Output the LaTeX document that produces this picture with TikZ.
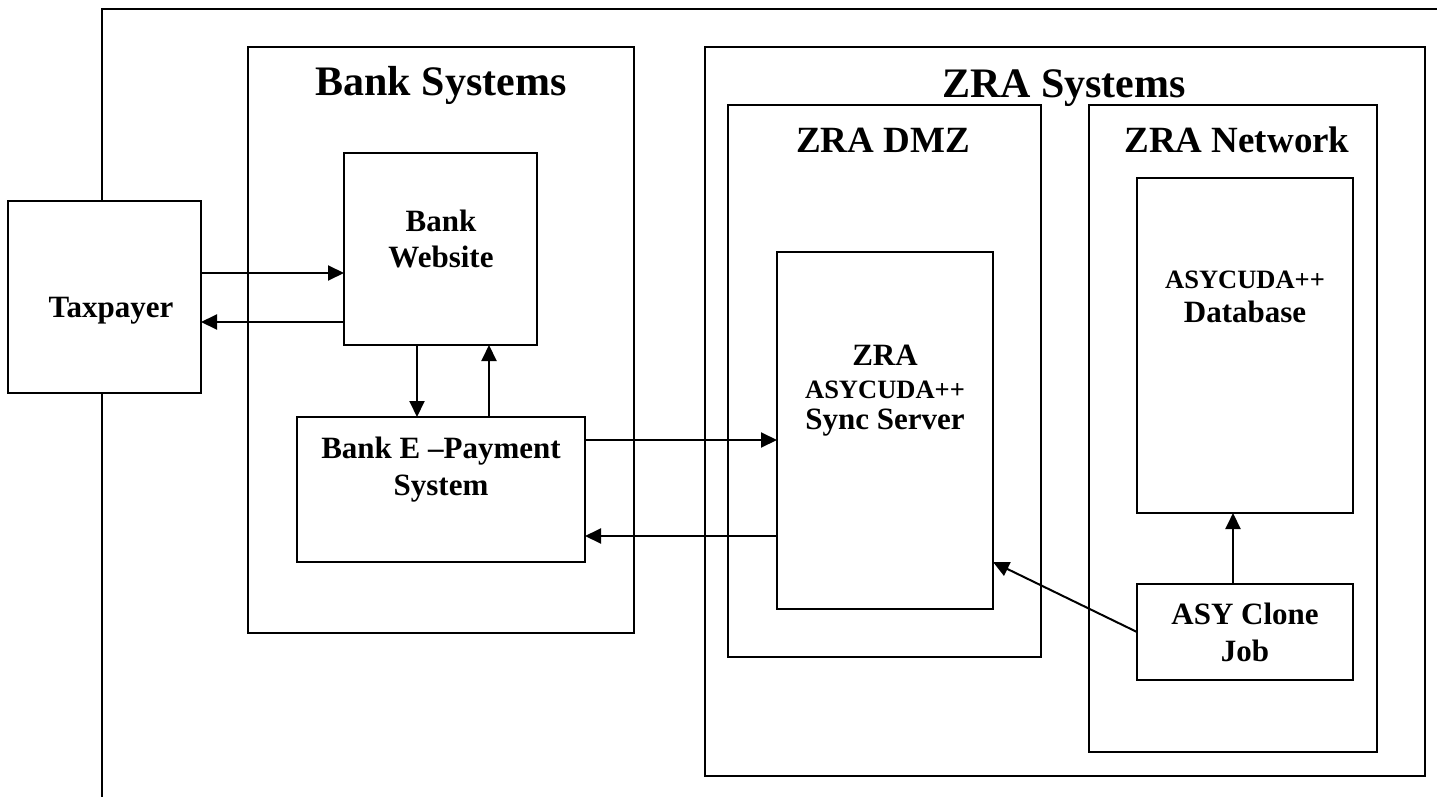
\documentclass[tikz,border=0pt]{standalone}
\usepackage{fontspec}
\setmainfont{Liberation Serif}
\usetikzlibrary{arrows.meta}
\tikzset{
  box/.style={draw, line width=2.2pt, fill=white, inner sep=0pt, outer sep=0pt, anchor=north west, rectangle},
  arr/.style={line width=2pt, -{Triangle[length=16pt,width=15pt]}},
  ttl/.style={font=\fontsize{42}{46}\selectfont\bfseries, anchor=base, inner sep=0pt},
  sub/.style={font=\fontsize{37}{41}\selectfont\bfseries, anchor=base, inner sep=0pt},
  lbl/.style={font=\fontsize{31}{35}\selectfont\bfseries, anchor=base, inner sep=0pt},
  sml/.style={font=\fontsize{26.5}{30}\selectfont\bfseries, anchor=base, inner sep=0pt}
}
\begin{document}
\begin{tikzpicture}[x=1pt,y=-1pt]
\useasboundingbox[fill=white] (0,0) rectangle (1437,797);
% outer frame
\coordinate (ftr) at (1437,9);
\coordinate (ftl) at (102,9);
\coordinate (fbl) at (102,797);
\draw[line width=2.2pt] (ftr) -- (ftl) -- (fbl);
% containers
\node[box, minimum width=386, minimum height=586] (bank) at (248,47) {};
\node[box, minimum width=720, minimum height=729] (zra) at (705,47) {};
\node[box, minimum width=313, minimum height=552] (dmz) at (728,105) {};
\node[box, minimum width=288, minimum height=647] (net) at (1089,105) {};
% boxes
\node[box, minimum width=193, minimum height=192] (tax) at (8,201) {};
\node[box, minimum width=193, minimum height=192] (web) at (344,153) {};
\node[box, minimum width=288, minimum height=145] (epay) at (297,417) {};
\node[box, minimum width=216, minimum height=357] (sync) at (777,252) {};
\node[box, minimum width=216, minimum height=335] (db) at (1137,178) {};
\node[box, minimum width=216, minimum height=96] (clone) at (1137,584) {};
% titles
\node[ttl] (tbank) at (441,96) {Bank Systems};
\node[ttl] (tzra) at (1064,98) {ZRA Systems};
\node[sub] (tdmz) at (883,152) {ZRA DMZ};
\node[sub] (tnet) at (1237,152) {ZRA Network};
% labels
\node[lbl] (ltax) at (111,317) {Taxpayer};
\node[lbl] (lweb1) at (441,231) {Bank};
\node[lbl] (lweb2) at (441,267) {Website};
\node[lbl] (lepay1) at (441,458) {Bank E –Payment};
\node[lbl] (lepay2) at (441,495) {System};
\node[lbl] (lsync1) at (885,365) {ZRA};
\node[sml] (lsync2) at (885,398) {ASYCUDA++};
\node[lbl] (lsync3) at (885,429) {Sync Server};
\node[sml] (ldb1) at (1245,288) {ASYCUDA++};
\node[lbl] (ldb2) at (1245,322) {Database};
\node[lbl] (lcl1) at (1245,624) {ASY Clone};
\node[lbl] (lcl2) at (1245,661) {Job};
% connectors
\draw[arr] (tax.east |- 0,273) -- (web.west |- 0,273);
\draw[arr] (web.west |- 0,322) -- (tax.east |- 0,322);
\draw[arr] (web.south -| 417,0) -- (epay.north -| 417,0);
\draw[arr] (epay.north -| 489,0) -- (web.south -| 489,0);
\draw[arr] (epay.east |- 0,440) -- (sync.west |- 0,440);
\draw[arr] (sync.west |- 0,536) -- (epay.east |- 0,536);
\draw[arr] (clone.west |- 0,632) -- (sync.east |- 0,562);
\draw[arr] (clone.north -| 1233,0) -- (db.south -| 1233,0);
\end{tikzpicture}
\end{document}
